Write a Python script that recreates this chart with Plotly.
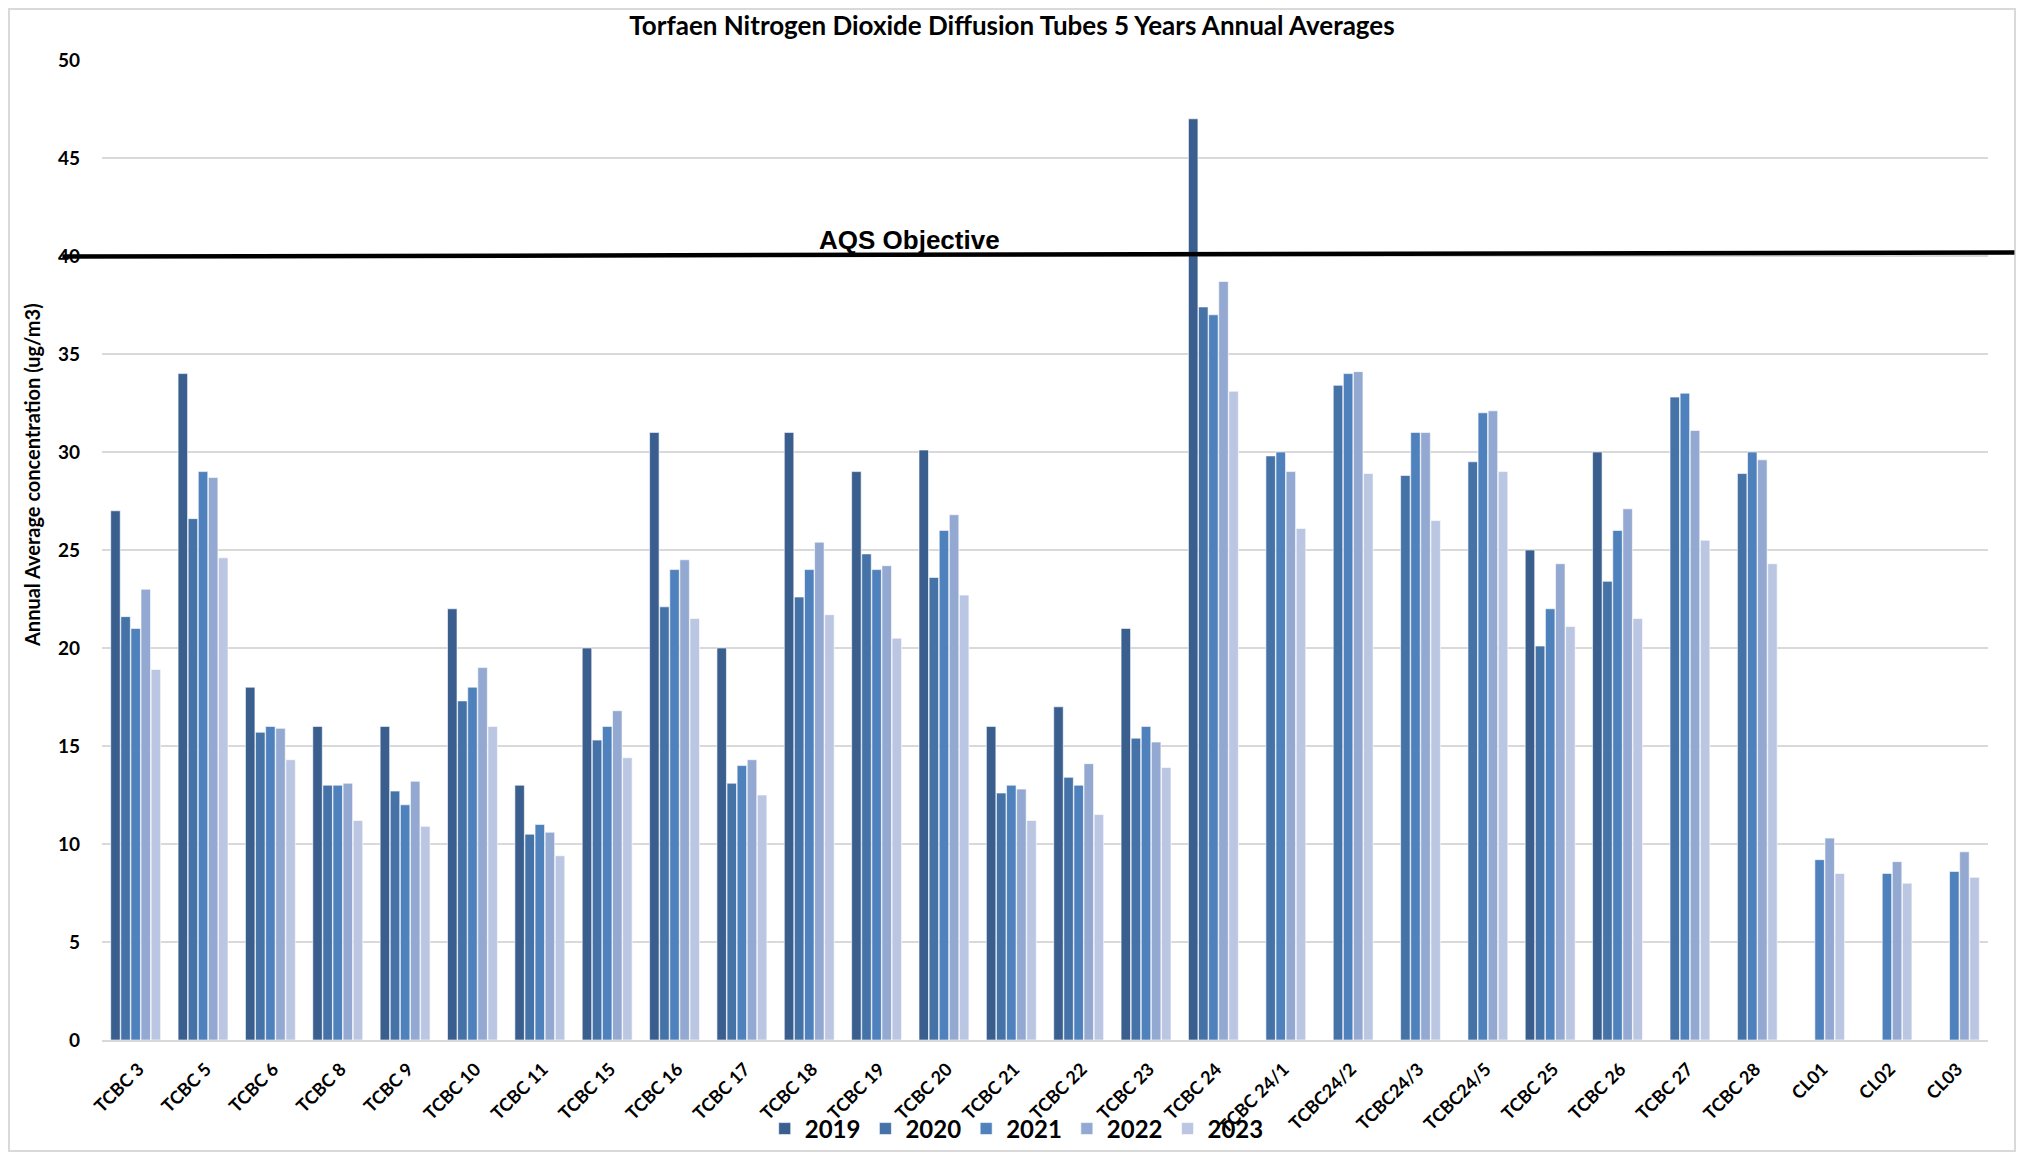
import plotly.graph_objects as go

categories = ["TCBC 3", "TCBC 5", "TCBC 6", "TCBC 8", "TCBC 9", "TCBC 10", "TCBC 11", "TCBC 15",
              "TCBC 16", "TCBC 17", "TCBC 18", "TCBC 19", "TCBC 20", "TCBC 21", "TCBC 22", "TCBC 23",
              "TCBC 24", "TCBC 24/1", "TCBC24/2", "TCBC24/3", "TCBC24/5", "TCBC 25", "TCBC 26",
              "TCBC 27", "TCBC 28", "CL01", "CL02", "CL03"]

y2019 = [27.0, 34.0, 18.0, 16.0, 16.0, 22.0, 13.0, 20.0, 31.0, 20.0, 31.0, 29.0, 30.1, 16.0, 17.0, 21.0,
         47.0, None, None, None, None, 25.0, 30.0, None, None, None, None, None]
y2020 = [21.6, 26.6, 15.7, 13.0, 12.7, 17.3, 10.5, 15.3, 22.1, 13.1, 22.6, 24.8, 23.6, 12.6, 13.4, 15.4,
         37.4, 29.8, 33.4, 28.8, 29.5, 20.1, 23.4, 32.8, 28.9, None, None, None]
y2021 = [21.0, 29.0, 16.0, 13.0, 12.0, 18.0, 11.0, 16.0, 24.0, 14.0, 24.0, 24.0, 26.0, 13.0, 13.0, 16.0,
         37.0, 30.0, 34.0, 31.0, 32.0, 22.0, 26.0, 33.0, 30.0, 9.2, 8.5, 8.6]
y2022 = [23.0, 28.7, 15.9, 13.1, 13.2, 19.0, 10.6, 16.8, 24.5, 14.3, 25.4, 24.2, 26.8, 12.8, 14.1, 15.2,
         38.7, 29.0, 34.1, 31.0, 32.1, 24.3, 27.1, 31.1, 29.6, 10.3, 9.1, 9.6]
y2023 = [18.9, 24.6, 14.3, 11.2, 10.9, 16.0, 9.4, 14.4, 21.5, 12.5, 21.7, 20.5, 22.7, 11.2, 11.5, 13.9,
         33.1, 26.1, 28.9, 26.5, 29.0, 21.1, 21.5, 25.5, 24.3, 8.5, 8.0, 8.3]

years = ["2019", "2020", "2021", "2022", "2023"]
series = [y2019, y2020, y2021, y2022, y2023]
colors = ["#3A5F8F", "#4572A7", "#4F81BD", "#93A9D1", "#BBC7E2"]

objective_value = 40
objective_label = "AQS Objective"
y_title = "Annual Average concentration (ug/m3)"
chart_title = "Torfaen Nitrogen Dioxide Diffusion Tubes 5 Years Annual Averages"

# page body has an 8px default margin, so the figure is 16px smaller than the window
W, H = 2008, 1144
ML, MR, MT, MB = 94, 28, 52, 112
PW, PH = W - ML - MR, H - MT - MB

fig = go.Figure()
for name, vals, col in zip(years, series, colors):
    fig.add_trace(go.Bar(
        x=categories, y=vals, name=name,
        marker=dict(color=col, line=dict(color="white", width=0.6)),
    ))

font_family = "Lato"

fig.update_layout(
    width=W, height=H,
    margin=dict(l=ML, r=MR, t=MT, b=MB, autoexpand=False),
    paper_bgcolor="white", plot_bgcolor="white",
    barmode="group", bargap=0.25, bargroupgap=0.06,
    title=dict(text="<b>" + chart_title + "</b>",
               x=0.5, xanchor="center", y=1 - 18 / H, yanchor="middle",
               font=dict(family=font_family, size=26, color="black")),
    font=dict(family=font_family, color="black"),
    legend=dict(orientation="h", x=0.485, xanchor="center", y=-89 / PH, yanchor="middle",
                font=dict(family=font_family, size=24, color="black", weight="bold"),
                itemwidth=30, bgcolor="rgba(0,0,0,0)"),
    showlegend=True,
)

fig.update_yaxes(
    range=[0, 50], dtick=5, showgrid=True, gridcolor="#D9D9D9", gridwidth=1.5,
    zeroline=False, showline=False, automargin=False,
    tickfont=dict(family=font_family, size=19, color="black", weight="bold"),
    ticks="", ticklabelstandoff=21,
)
fig.update_xaxes(
    showline=True, linecolor="#D9D9D9", linewidth=1.5, showgrid=False,
    tickangle=-45, ticks="", automargin=False, ticklabelstandoff=10, ticklabelshift=3,
    tickfont=dict(family=font_family, size=18, color="black", weight="bold"),
)

# y-axis title as annotation for precise placement
fig.add_annotation(xref="paper", yref="paper", x=-70 / PW, y=(1032 - 467) / PH,
                   text="<b>" + y_title + "</b>", textangle=-90, showarrow=False,
                   font=dict(family=font_family, size=20, color="black"),
                   xanchor="center", yanchor="middle")

# AQS objective line (extends beyond plot area, slightly sloped as in the source)
fig.add_shape(type="line", xref="paper", yref="y", x0=-0.021, x1=1.014,
              y0=objective_value - 0.03, y1=objective_value + 0.18,
              line=dict(color="black", width=4.5), layer="above")
fig.add_annotation(xref="paper", yref="y", x=0.428, y=objective_value + 0.8,
                   text="<b>" + objective_label + "</b>", showarrow=False,
                   font=dict(family="Liberation Sans", size=26, color="black"),
                   xanchor="center", yanchor="middle")

# chart area border
fig.add_shape(type="rect", xref="paper", yref="paper",
              x0=(-ML + 1) / PW, x1=1 + (MR - 1) / PW, y0=(-MB + 1) / PH, y1=1 + (MT - 1) / PH,
              line=dict(color="#D9D9D9", width=2), fillcolor="rgba(0,0,0,0)", layer="below")

fig.write_html("out.html")
